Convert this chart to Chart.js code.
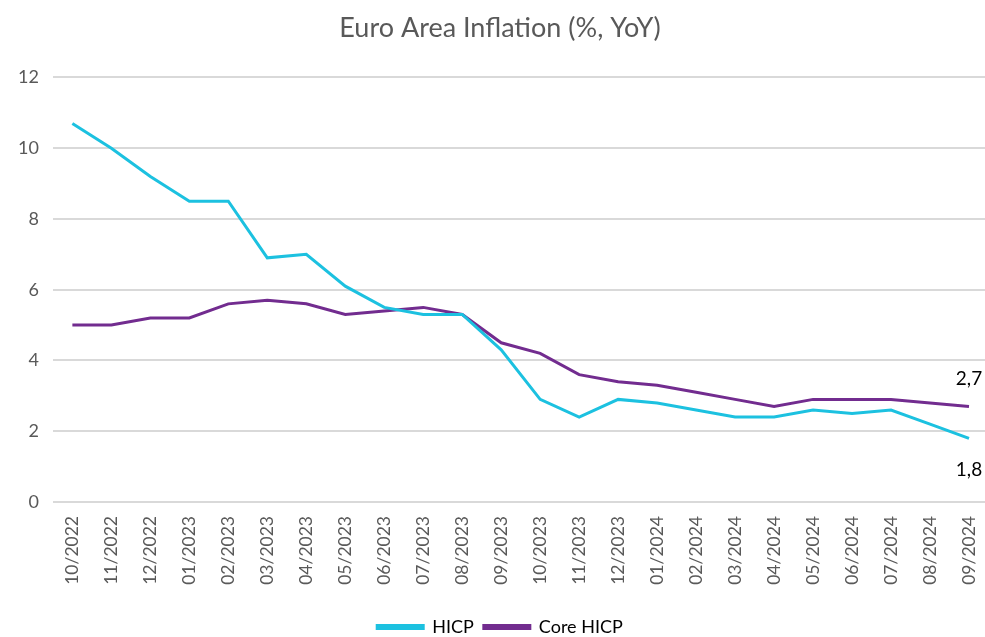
<!DOCTYPE html>
<html>
<head>
<meta charset="utf-8">
<script src="https://cdn.jsdelivr.net/npm/chart.js@4"></script>
<style>
  html, body { margin: 0; padding: 0; background: #fff; overflow: hidden; }
  #wrap { width: 996px; height: 646px; }
</style>
</head>
<body>
<div id="wrap"><canvas id="chart"></canvas></div>
<script>
const months = ["10/2022", "11/2022", "12/2022", "01/2023", "02/2023", "03/2023", "04/2023", "05/2023",
    "06/2023", "07/2023", "08/2023", "09/2023", "10/2023", "11/2023", "12/2023", "01/2024",
    "02/2024", "03/2024", "04/2024", "05/2024", "06/2024", "07/2024", "08/2024", "09/2024"];
const hicp = [10.7, 10.0, 9.2, 8.5, 8.5, 6.9, 7.0, 6.1, 5.5, 5.3, 5.3, 4.3,
    2.9, 2.4, 2.9, 2.8, 2.6, 2.4, 2.4, 2.6, 2.5, 2.6, 2.2, 1.8];
const coreHicp = [5.0, 5.0, 5.2, 5.2, 5.6, 5.7, 5.6, 5.3, 5.4, 5.5, 5.3, 4.5,
    4.2, 3.6, 3.4, 3.3, 3.1, 2.9, 2.7, 2.9, 2.9, 2.9, 2.8, 2.7];
const yTicks = [0, 2, 4, 6, 8, 10, 12];

const fontFamily = "Lato, 'Open Sans', sans-serif";

// last value labels, core above the line, headline below
const endLabels = {
    id: "endLabels",
    afterDatasetsDraw(chart) {
        const ctx = chart.ctx;
        ctx.save();
        ctx.font = "19px " + fontFamily;
        ctx.fillStyle = "#000";
        ctx.textAlign = "center";
        chart.data.datasets.forEach(function (ds, i) {
            const meta = chart.getDatasetMeta(i);
            const pt = meta.data[meta.data.length - 1];
            const txt = ds.data[ds.data.length - 1].toFixed(1).replace(".", ",");
            if (i === 0) {
                ctx.textBaseline = "top";
                ctx.fillText(txt, pt.x, pt.y + 22);
            } else {
                ctx.textBaseline = "bottom";
                ctx.fillText(txt, pt.x, pt.y - 18);
            }
        });
        ctx.restore();
    }
};

new Chart(document.getElementById("chart"), {
    type: "line",
    data: {
        labels: months,
        datasets: [
            {
                label: "HICP",
                data: hicp,
                borderColor: "#1cc1e0",
                backgroundColor: "#1cc1e0",
                borderWidth: 3,
                pointRadius: 0,
                tension: 0
            },
            {
                label: "Core HICP",
                data: coreHicp,
                borderColor: "#722c8f",
                backgroundColor: "#722c8f",
                borderWidth: 3,
                pointRadius: 0,
                tension: 0
            }
        ]
    },
    options: {
        responsive: true,
        maintainAspectRatio: false,
        animation: false,
        layout: { padding: { left: 4, right: 0, top: 8, bottom: 0 } },
        plugins: {
            title: {
                display: true,
                text: "Euro Area Inflation (%, YoY)",
                color: "#595959",
                font: { family: fontFamily, size: 27, weight: "normal" },
                padding: { top: 4, bottom: 33 }
            },
            legend: {
                position: "bottom",
                labels: {
                    color: "#000",
                    font: { family: fontFamily, size: 18 },
                    boxWidth: 46,
                    boxHeight: 3,
                    padding: 10
                }
            },
            tooltip: { enabled: false }
        },
        scales: {
            x: {
                offset: true,
                grid: { display: false },
                border: { display: false },
                afterFit(axis) {
                    axis.height = 106;
                },
                ticks: {
                    color: "#595959",
                    font: { family: fontFamily, size: 17.5 },
                    minRotation: 90,
                    maxRotation: 90,
                    autoSkip: false,
                    padding: 6
                }
            },
            y: {
                min: 0,
                max: 12,
                afterBuildTicks(axis) {
                    axis.ticks = yTicks.map(v => ({ value: v }));
                },
                grid: { color: "#d9d9d9", lineWidth: 2, drawTicks: false },
                border: { display: false },
                ticks: {
                    color: "#595959",
                    font: { family: fontFamily, size: 18 },
                    padding: 14
                }
            }
        }
    },
    plugins: [endLabels]
});
</script>
</body>
</html>
